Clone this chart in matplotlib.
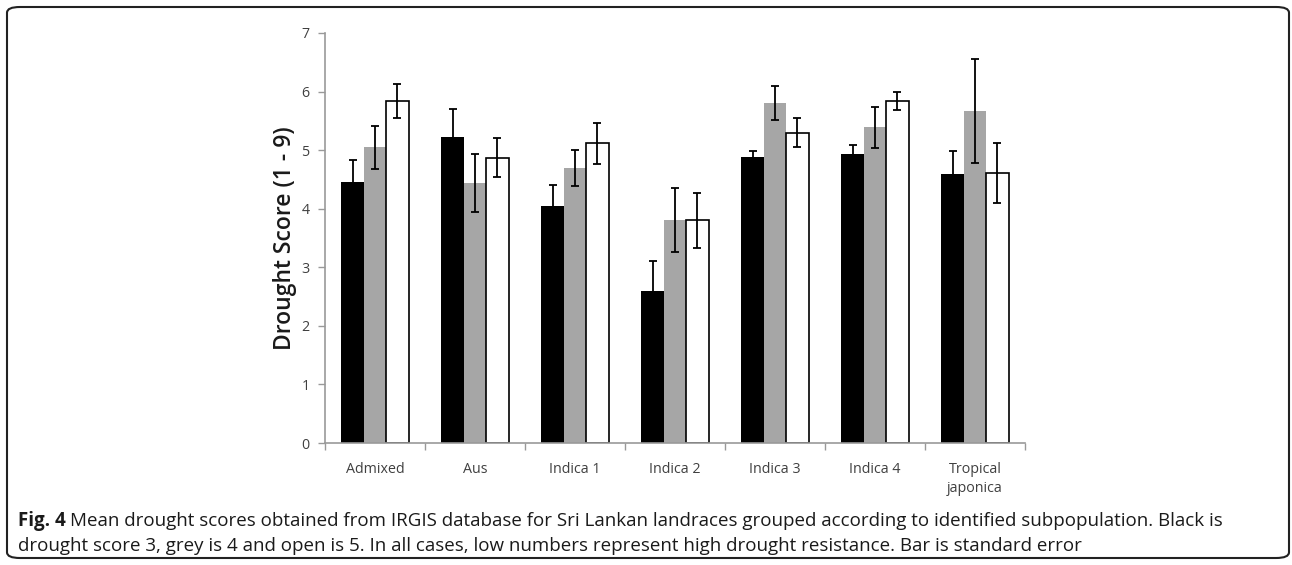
import numpy as np
import matplotlib
matplotlib.use("Agg")
import matplotlib.pyplot as plt
from matplotlib.patches import FancyBboxPatch

# subpopulations
groups = ["Admixed", "Aus", "Indica 1", "Indica 2", "Indica 3", "Indica 4", "Tropical\njaponica"]

# mean drought score per subpopulation (score 3 = black, 4 = grey, 5 = open)
score3 = [4.46, 5.23, 4.05, 2.60, 4.89, 4.94, 4.59]
score4 = [5.05, 4.44, 4.70, 3.81, 5.80, 5.39, 5.67]
score5 = [5.84, 4.87, 5.12, 3.80, 5.30, 5.84, 4.61]

# standard errors
se3 = [0.37, 0.47, 0.35, 0.50, 0.10, 0.14, 0.40]
se4 = [0.37, 0.49, 0.31, 0.55, 0.29, 0.35, 0.89]
se5 = [0.29, 0.33, 0.35, 0.47, 0.25, 0.16, 0.51]

plt.rcParams['font.family'] = ['Open Sans', 'DejaVu Sans']

fig = plt.figure(figsize=(12.92, 5.65), dpi=100)
ax = fig.add_axes([0.2515, 0.2159, 0.5418, 0.7257])

x = np.arange(len(groups))
w = 0.224
err_kw = dict(ecolor='black', elinewidth=1.3, capsize=3, capthick=1.3)

ax.bar(x - w, score3, w, color='black', yerr=se3, error_kw=err_kw, zorder=2)
ax.bar(x, score4, w, color='#a6a6a6', yerr=se4, error_kw=err_kw, zorder=2)
ax.bar(x + w, score5, w, color='white', edgecolor='black', linewidth=1.2,
       yerr=se5, error_kw=err_kw, zorder=2)

ax.set_xlim(-0.5, len(groups) - 0.5)
ax.set_ylim(0, 7)
ax.set_yticks(range(0, 8))
ax.set_xticks(x)
ax.set_xticklabels(groups, fontsize=10.3, color='#404040', linespacing=1.35)
ax.set_xticks(np.arange(-0.5, len(groups)), minor=True)
ax.tick_params(axis='x', which='major', length=0, pad=14)
ax.tick_params(axis='x', which='minor', length=5, color='#999999', width=1)
ax.tick_params(axis='y', length=5, color='#999999', width=1, labelsize=10.3,
               labelcolor='#404040', pad=6)

for s in ['top', 'right']:
    ax.spines[s].set_visible(False)
for s in ['left', 'bottom']:
    ax.spines[s].set_color('#999999')
    ax.spines[s].set_linewidth(1.2)

ax.set_ylabel("Drought Score (1 - 9)", fontsize=16.5, fontweight='semibold',
              color='#1a1a1a', labelpad=3)

# caption
cap_size = 13.5
fig.text(18 / 1292, 1 - 521 / 565, "Fig. 4", fontsize=cap_size, fontweight='bold',
         va='center', ha='left', color='#1a1a1a')
fig.text(70 / 1292, 1 - 521 / 565,
         "Mean drought scores obtained from IRGIS database for Sri Lankan landraces grouped "
         "according to identified subpopulation. Black is",
         fontsize=cap_size, va='center', ha='left', color='#1a1a1a')
fig.text(18 / 1292, 1 - 546 / 565,
         "drought score 3, grey is 4 and open is 5. In all cases, low numbers represent high "
         "drought resistance. Bar is standard error",
         fontsize=cap_size, va='center', ha='left', color='#1a1a1a')

# rounded frame
frame = FancyBboxPatch((7 / 1292, 7 / 565), 1282 / 1292, 551 / 565,
                       boxstyle="round,pad=0,rounding_size=0.01",
                       transform=fig.transFigure, fill=False,
                       edgecolor='#222222', linewidth=1.5)
fig.patches.append(frame)

fig.savefig("out.png", dpi=100)
